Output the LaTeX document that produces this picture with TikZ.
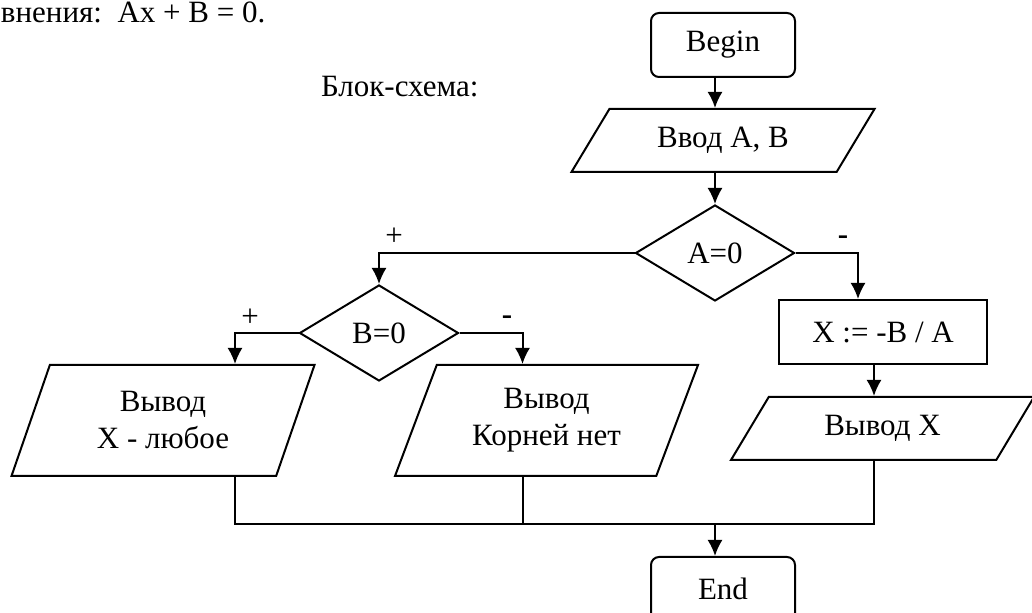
\documentclass[tikz,border=0pt]{standalone}
\usepackage{fontspec}
\setmainfont{Liberation Serif}
\usetikzlibrary{shapes.geometric,arrows.meta,positioning}

\begin{document}
\begin{tikzpicture}[x=0.5pt,y=-0.5pt,line width=1pt,>={Latex[length=8pt,width=7.5pt]},
        every node/.style={font=\fontsize{15.5}{18.5}\selectfont},
        term/.style={draw,rectangle,rounded corners=4pt,minimum width=72pt,minimum height=32pt},
        proc/.style={draw,rectangle,minimum width=104pt,minimum height=32pt},
        cond/.style={draw,diamond,aspect=1.66,inner sep=1pt,minimum width=79.5pt,minimum height=48pt},
        io/.style={draw,trapezium,trapezium left angle=46.4,trapezium right angle=133.6,
            trapezium stretches body,minimum width=151.5pt,minimum height=31.5pt},
        iotall/.style={io,trapezium left angle=61.6,trapezium right angle=118.4,minimum height=55.5pt,align=center},
        sign/.style={inner sep=0pt}]
        \useasboundingbox (0,0) rectangle (1032,613);
        \node[anchor=base west,inner sep=0pt] (head) at (0,23) {внения:\ \ Ax + B = 0.};
        \node[anchor=base west,inner sep=0pt] (caption) at (320,97) {Блок-схема:};
        \node[term] (begin) at (723,45) {Begin};
        \node[io] (vvod) at (723,140.5) {Ввод A, B};
        \node[cond] (ifA) at (715,253) {A=0};
        \node[cond] (ifB) at (379,333) {B=0};
        \node[proc] (calc) at (883,332) {X := -B / A};
        \node[iotall] (outAny) at (163,420.5) {Вывод\\X - любое};
        \node[iotall] (outNone) at (546.5,420.5) {Вывод\\Корней нет};
        \node[io] (outX) at (882.5,428.5) {Вывод X};
        \node[term] (fin) at (723,589) {End};
        \node[sign] (plusA) at (394,237) {+};
        \node[sign] (minusA) at (843,240) {\textbf{-}};
        \node[sign] (plusB) at (250,318) {+};
        \node[sign] (minusB) at (507,320) {\textbf{-}};
        \draw[->] (begin.south -| ifA) -- (vvod.north -| ifA);
        \draw[->] (vvod.south -| ifA) -- (ifA.north);
        \draw[->] (ifA.west) -| (ifB.north);
        \draw[->] (ifA.east) -| ([xshift=-12.5pt]calc.north);
        \draw[->] ([xshift=-4.5pt]calc.south) -- ([xshift=-4.5pt]calc.center |- outX.north);
        \draw[->] (ifB.west) -| ([xshift=36pt]outAny.center |- outAny.north);
        \draw[->] (ifB.east) -| ([xshift=-12pt]outNone.center |- outNone.north);
        \coordinate (join) at (715,524);
        \draw ([xshift=36pt]outAny.center |- outAny.south) |- (join) -| ([xshift=-4.25pt]outX.center |- outX.south);
        \draw ([xshift=-12pt]outNone.center |- outNone.south) -- ([xshift=-12pt]outNone.center |- join);
        \draw[->] (join) -- (join |- fin.north);
\end{tikzpicture}
\end{document}
